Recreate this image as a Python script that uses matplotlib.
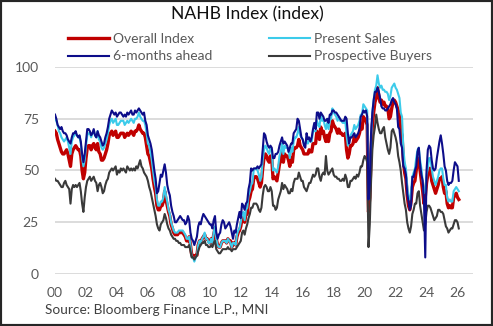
import matplotlib.pyplot as plt
import numpy as np
from matplotlib.patches import Rectangle

# NAHB housing market index and components, monthly Jan 2000 - Feb 2026
overall = [
    69, 68, 65, 63, 61, 59, 58, 58, 59, 60, 58, 55,  # 2000
    52, 58, 60, 61, 62, 61, 60, 60, 57, 50, 46, 49,  # 2001
    56, 61, 62, 62, 60, 62, 63, 61, 60, 63, 59, 58,  # 2002
    55, 55, 56, 58, 60, 63, 67, 68, 69, 67, 68, 69,  # 2003
    66, 66, 67, 68, 68, 68, 66, 67, 68, 67, 68, 69,  # 2004
    68, 67, 69, 69, 70, 72, 70, 69, 68, 68, 66, 62,  # 2005
    58, 57, 54, 51, 46, 42, 39, 33, 31, 31, 33, 33,  # 2006
    35, 40, 36, 33, 30, 28, 24, 22, 20, 19, 19, 19,  # 2007
    20, 20, 20, 20, 19, 18, 16, 16, 18, 14, 9, 9,    # 2008
    8, 9, 9, 14, 16, 15, 17, 18, 19, 17, 17, 16,     # 2009
    15, 17, 15, 19, 22, 17, 14, 13, 13, 15, 16, 16,  # 2010
    16, 15, 17, 16, 16, 13, 15, 15, 14, 18, 20, 21,  # 2011
    23, 27, 28, 25, 29, 29, 35, 37, 40, 41, 46, 47,  # 2012
    47, 46, 44, 42, 44, 51, 56, 58, 57, 55, 54, 57,  # 2013
    56, 46, 47, 46, 45, 49, 53, 55, 59, 54, 58, 57,  # 2014
    57, 55, 52, 56, 54, 60, 61, 61, 62, 65, 62, 61,  # 2015
    60, 58, 58, 58, 58, 60, 59, 59, 63, 63, 63, 69,  # 2016
    67, 65, 71, 68, 69, 66, 64, 67, 64, 68, 69, 74,  # 2017
    72, 71, 70, 68, 70, 68, 68, 67, 67, 68, 60, 56,  # 2018
    58, 62, 62, 63, 66, 64, 65, 66, 68, 71, 70, 76,  # 2019
    75, 74, 72, 30, 37, 58, 72, 78, 83, 85, 90, 86,  # 2020
    83, 84, 82, 83, 81, 81, 80, 75, 76, 80, 83, 84,  # 2021
    83, 81, 79, 77, 69, 67, 55, 49, 46, 38, 33, 31,  # 2022
    35, 42, 44, 45, 50, 55, 56, 50, 45, 40, 34, 37,  # 2023
    44, 48, 51, 51, 45, 43, 41, 39, 41, 43, 46, 46,  # 2024
    47, 42, 39, 40, 34, 32, 33, 32, 32, 37, 38, 39,  # 2025
    37, 36,                                          # 2026
]

present_sales = [
    75, 74, 72, 69, 68, 66, 65, 64, 65, 66, 64, 61,
    58, 64, 66, 67, 68, 67, 66, 66, 63, 56, 52, 55,
    62, 67, 68, 68, 66, 68, 69, 67, 66, 69, 65, 64,
    61, 60, 61, 63, 65, 68, 72, 74, 75, 73, 74, 75,
    72, 72, 73, 74, 74, 74, 72, 73, 74, 73, 74, 75,
    74, 73, 75, 75, 76, 78, 76, 75, 74, 74, 72, 68,
    63, 62, 59, 55, 50, 45, 42, 36, 33, 33, 35, 35,
    37, 42, 38, 35, 31, 29, 25, 23, 21, 20, 20, 20,
    21, 21, 21, 21, 20, 19, 17, 17, 18, 14, 8, 8,
    6, 8, 9, 14, 16, 15, 17, 18, 20, 17, 17, 15,
    15, 17, 15, 20, 23, 17, 14, 13, 13, 15, 16, 16,
    16, 15, 17, 16, 15, 13, 15, 15, 14, 19, 21, 22,
    25, 29, 30, 26, 31, 32, 38, 40, 43, 44, 50, 51,
    51, 50, 48, 45, 47, 55, 60, 62, 61, 59, 58, 61,
    60, 50, 51, 50, 49, 52, 57, 59, 63, 58, 62, 61,
    61, 60, 56, 61, 59, 64, 66, 66, 68, 71, 67, 66,
    65, 63, 63, 64, 63, 65, 64, 64, 69, 69, 69, 74,
    72, 71, 77, 74, 75, 72, 70, 73, 70, 74, 75, 80,
    78, 77, 76, 74, 76, 74, 74, 73, 73, 74, 67, 62,
    64, 67, 68, 69, 72, 70, 71, 72, 74, 77, 77, 82,
    81, 80, 79, 36, 42, 64, 78, 84, 89, 91, 96, 92,
    90, 91, 89, 89, 88, 88, 87, 84, 86, 90, 91, 92,
    90, 89, 87, 85, 78, 76, 61, 54, 51, 43, 36, 36,
    40, 47, 49, 51, 56, 60, 61, 55, 51, 45, 39, 40,
    48, 51, 56, 56, 51, 47, 45, 43, 45, 47, 50, 51,
    51, 46, 43, 43, 37, 35, 36, 35, 35, 40, 41, 42,
    41, 40,
]

six_months = [
    77, 75, 72, 71, 70, 71, 69, 68, 68, 67, 65, 64,
    63, 66, 68, 68, 69, 67, 66, 67, 64, 58, 54, 58,
    64, 70, 70, 69, 67, 68, 70, 67, 66, 69, 67, 66,
    64, 62, 63, 66, 68, 71, 75, 77, 79, 78, 77, 78,
    76, 77, 78, 78, 77, 76, 77, 76, 78, 77, 78, 79,
    77, 77, 79, 78, 79, 80, 79, 78, 77, 78, 74, 72,
    67, 65, 63, 60, 55, 50, 46, 39, 40, 44, 48, 47,
    50, 53, 49, 43, 40, 38, 33, 30, 28, 25, 25, 26,
    27, 28, 27, 26, 26, 24, 25, 28, 26, 20, 17, 16,
    14, 16, 18, 23, 25, 24, 27, 29, 28, 27, 26, 25,
    24, 24, 22, 26, 28, 20, 17, 19, 20, 24, 26, 25,
    22, 23, 24, 25, 23, 20, 17, 21, 20, 24, 27, 30,
    27, 34, 33, 31, 34, 35, 41, 44, 51, 50, 51, 51,
    51, 52, 51, 52, 53, 60, 68, 67, 64, 62, 61, 62,
    61, 56, 56, 58, 58, 59, 62, 64, 66, 63, 64, 63,
    62, 59, 61, 63, 63, 68, 69, 70, 75, 74, 70, 66,
    65, 62, 61, 68, 65, 66, 64, 66, 70, 73, 70, 78,
    78, 75, 78, 77, 76, 74, 74, 75, 73, 77, 77, 79,
    79, 78, 78, 77, 76, 75, 74, 74, 74, 76, 75, 68,
    63, 66, 66, 67, 68, 66, 67, 68, 70, 76, 77, 79,
    78, 79, 76, 36, 44, 68, 78, 84, 88, 88, 90, 88,
    85, 81, 80, 80, 79, 79, 80, 81, 82, 84, 85, 83,
    82, 80, 71, 70, 63, 61, 52, 51, 48, 39, 35, 31,
    33, 47, 47, 50, 52, 59, 61, 53, 48, 45, 36, 8,
    50, 60, 62, 61, 55, 51, 50, 51, 56, 60, 64, 67,
    63, 58, 52, 50, 45, 43, 44, 44, 45, 50, 54, 53,
    52, 45,
]

prospective = [
    46, 45, 45, 44, 43, 42, 42, 44, 45, 43, 42, 41,
    34, 41, 43, 42, 43, 42, 43, 44, 40, 34, 30, 37,
    42, 45, 46, 47, 45, 46, 47, 45, 44, 40, 43, 44,
    42, 39, 40, 43, 45, 46, 49, 50, 51, 50, 51, 52,
    48, 50, 49, 51, 50, 51, 50, 49, 52, 51, 50, 51,
    50, 51, 50, 52, 51, 53, 55, 52, 51, 49, 48, 47,
    45, 42, 40, 37, 34, 31, 28, 24, 22, 21, 24, 25,
    26, 29, 27, 24, 22, 21, 19, 18, 17, 17, 16, 16,
    15, 15, 14, 14, 14, 13, 13, 13, 14, 11, 8, 8,
    7, 8, 9, 11, 13, 14, 15, 15, 16, 14, 14, 13,
    13, 14, 13, 15, 16, 12, 11, 10, 10, 11, 12, 12,
    12, 12, 13, 12, 12, 11, 12, 12, 12, 13, 14, 15,
    16, 20, 21, 19, 22, 24, 27, 29, 32, 32, 34, 34,
    34, 33, 31, 30, 32, 38, 42, 43, 42, 40, 40, 42,
    40, 33, 33, 31, 32, 36, 38, 40, 44, 41, 43, 42,
    41, 39, 39, 41, 40, 44, 46, 46, 46, 49, 47, 45,
    45, 42, 41, 40, 42, 44, 44, 46, 48, 47, 48, 51,
    51, 47, 45, 48, 49, 48, 57, 50, 48, 49, 50, 51,
    48, 47, 47, 46, 46, 45, 45, 46, 45, 48, 46, 42,
    42, 45, 45, 46, 47, 46, 48, 47, 49, 52, 52, 55,
    57, 56, 54, 13, 24, 45, 60, 67, 71, 77, 73, 70,
    68, 68, 70, 71, 66, 63, 60, 58, 61, 69, 70, 68,
    66, 63, 57, 54, 50, 44, 39, 34, 31, 25, 22, 20,
    23, 29, 31, 34, 34, 39, 40, 33, 29, 25, 21, 24,
    30, 33, 33, 32, 30, 28, 26, 27, 28, 31, 31, 30,
    30, 29, 26, 23, 22, 20, 21, 22, 22, 24, 26, 26,
    25, 22,
]

year_ticks = list(range(2000, 2027, 2))
year_labels = [f"{y % 100:02d}" for y in year_ticks]

plt.rcParams['font.family'] = ['Lato', 'DejaVu Sans']

fig = plt.figure(figsize=(4.93, 3.26), dpi=100)
ax = fig.add_axes([0.1116, 0.1595, 0.8478, 0.635])

t = 2000 + np.arange(len(overall)) / 12

l_over, = ax.plot(t, overall, color='#c00000', lw=2.4, label='Overall Index')
l_pres, = ax.plot(t, present_sales, color='#3ccbea', lw=1.5, label='Present Sales')
l_pros, = ax.plot(t, prospective, color='#3a3a3a', lw=1.5, label='Prospective Buyers')
l_six, = ax.plot(t, six_months, color='#0d0d8a', lw=1.5, label='6-months ahead')

ax.set_xlim(2000, 2027)
ax.set_ylim(0, 100)
ax.set_yticks([0, 25, 50, 75, 100])
ax.set_xticks(year_ticks)
ax.set_xticklabels(year_labels)
ax.tick_params(length=0, labelsize=10, labelcolor='#595959')
ax.tick_params(axis='y', pad=11.5)
ax.tick_params(axis='x', pad=9)
ax.grid(axis='y', color='#d9d9d9', lw=1.3)
ax.set_axisbelow(True)
for s in ax.spines.values():
    s.set_visible(False)

# two legend columns placed separately
leg_kw = dict(loc='upper left', frameon=False, fontsize=10,
              labelcolor='#595959', handlelength=2.95, handletextpad=0.3,
              labelspacing=0.42, borderpad=0, borderaxespad=0)
fig.legend([l_over, l_six], ['Overall Index', '6-months ahead'],
           bbox_to_anchor=(0.138, 0.9), **leg_kw)
fig.legend([l_pres, l_pros], ['Present Sales', 'Prospective Buyers'],
           bbox_to_anchor=(0.546, 0.9), **leg_kw)

fig.text(0.502, 0.955, 'NAHB Index (index)', ha='center', va='center',
         fontsize=12.6, color='#111111')
fig.text(0.091, 0.049, 'Source: Bloomberg Finance L.P., MNI', ha='left',
         va='center', fontsize=9.8, color='#404040')

fig.patches.append(Rectangle((0, 0), 1, 1, transform=fig.transFigure,
                             fill=False, lw=3, ec='#262626'))

fig.savefig('out.png', dpi=100)
